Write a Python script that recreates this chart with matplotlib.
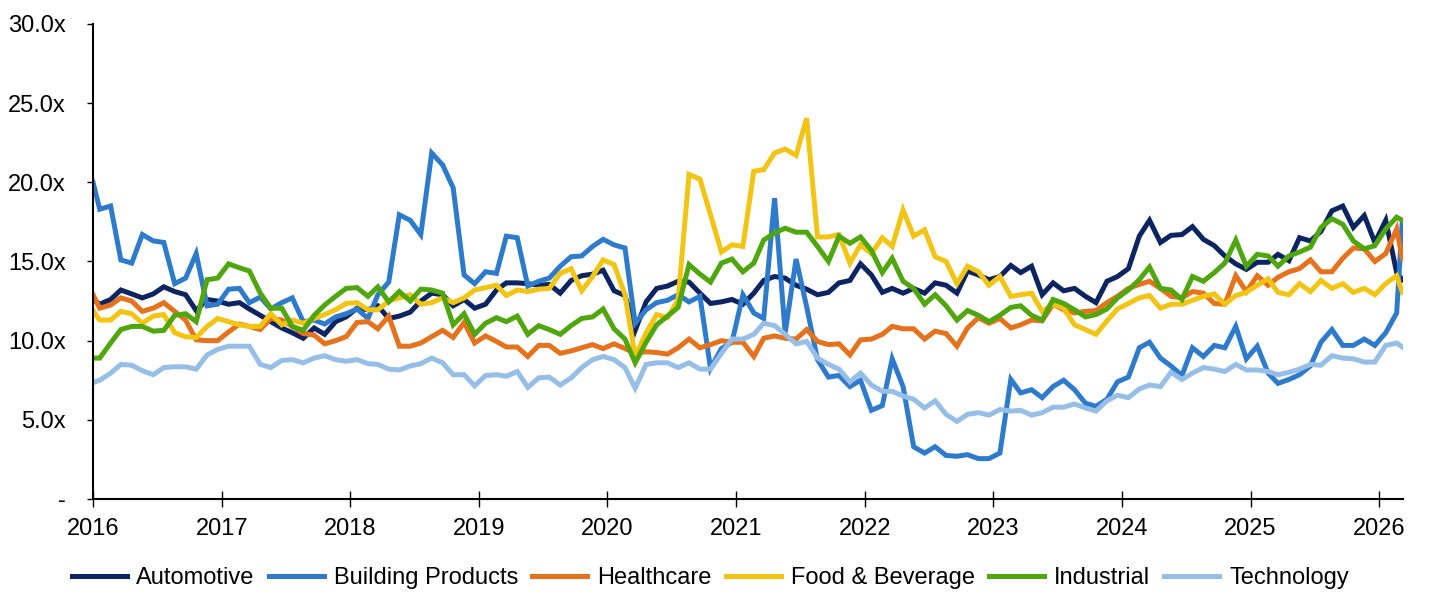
import matplotlib
matplotlib.use("Agg")
import matplotlib.pyplot as plt
import matplotlib.dates as mdates
import pandas as pd

plt.rcParams["font.family"] = ["Liberation Sans", "DejaVu Sans"]

# Dates: first point on the axis, then monthly, last point early March 2026
dates = (
    [pd.Timestamp("2016-01-01")]
    + list(pd.date_range("2016-01-20", periods=122, freq=pd.DateOffset(months=1)))
    + [pd.Timestamp("2026-03-08")]
)

automotive = [
    12.6, 12.3, 12.6, 13.2, 12.95, 12.7, 12.95, 13.4, 13.1, 12.9, 11.9, 12.6, 12.5, 12.3, 12.4, 12.0, 11.6, 11.2, 10.8, 10.5,
    10.15, 10.8, 10.4, 11.2, 11.5, 12.05, 11.95, 12.2, 11.4, 11.55, 11.8, 12.5, 13.0, 12.9, 12.2, 12.6, 12.05, 12.3, 13.2, 13.65, 13.65,
    13.6, 13.5, 13.55, 13.0, 13.8, 14.1, 14.2, 14.45, 13.15, 12.85, 10.65, 12.45, 13.3, 13.45, 13.75, 13.7, 13.0, 12.35, 12.45, 12.6,
    12.3, 13.0, 13.8, 14.05, 13.95, 13.5, 13.25, 12.9, 13.05, 13.65, 13.8, 14.85, 14.15, 13.05, 13.3, 13.0, 13.3, 13.0, 13.65, 13.5, 13.0,
    14.4, 14.15, 13.85, 14.05, 14.75, 14.3, 14.7, 12.9, 13.65, 13.15, 13.3, 12.8, 12.4, 13.75, 14.05, 14.55, 16.6, 17.6, 16.2, 16.65,
    16.7, 17.2, 16.4, 16.0, 15.35, 14.85, 14.5, 14.95, 14.95, 15.45, 15.05, 16.5, 16.3, 16.9, 18.2, 18.5, 17.15, 17.9, 16.2, 17.6, 14.3, 13.85,
]
building = [
    20.0, 18.3, 18.5, 15.1, 14.9, 16.7, 16.3, 16.2, 13.6, 13.95, 15.5, 12.2, 12.3, 13.25, 13.3, 12.4, 12.75, 12.0, 12.4, 12.7,
    11.2, 11.3, 11.05, 11.5, 11.7, 12.0, 11.4, 12.9, 13.7, 17.95, 17.6, 16.7, 21.85, 21.1, 19.65, 14.15, 13.6, 14.35, 14.25, 16.6, 16.5,
    13.45, 13.75, 13.95, 14.7, 15.3, 15.35, 15.95, 16.4, 16.05, 15.85, 11.1, 11.95, 12.4, 12.55, 12.9, 12.45, 12.8, 8.25, 9.5, 9.9,
    12.9, 11.75, 11.4, 19.0, 10.5, 15.15, 12.15, 8.8, 7.7, 7.8, 7.1, 7.5, 5.6, 5.9, 8.85, 7.1, 3.3, 2.9, 3.3, 2.75, 2.7,
    2.8, 2.55, 2.55, 2.9, 7.55, 6.7, 6.9, 6.4, 7.1, 7.5, 6.9, 6.05, 5.85, 6.3, 7.4, 7.7, 9.55, 9.9, 8.9, 8.4,
    7.8, 9.55, 9.0, 9.7, 9.55, 10.9, 8.85, 9.65, 7.95, 7.3, 7.55, 7.85, 8.4, 9.9, 10.7, 9.7, 9.7, 10.1, 9.7, 10.5, 11.75, 17.55,
]
healthcare = [
    12.9, 12.05, 12.25, 12.7, 12.5, 11.85, 12.05, 12.4, 11.85, 11.3, 10.05, 10.0, 10.0, 10.55, 11.05, 10.9, 10.7, 11.4, 11.3, 10.9,
    10.45, 10.35, 9.8, 10.0, 10.25, 11.15, 11.2, 10.75, 11.55, 9.65, 9.65, 9.85, 10.25, 10.65, 10.2, 11.15, 9.85, 10.3, 9.95, 9.6, 9.6,
    9.0, 9.7, 9.7, 9.2, 9.35, 9.55, 9.75, 9.5, 9.8, 9.5, 9.2, 9.3, 9.25, 9.15, 9.55, 10.1, 9.55, 9.75, 10.0, 9.9,
    9.9, 9.0, 10.15, 10.3, 10.15, 10.1, 10.7, 9.95, 9.75, 9.8, 9.1, 10.05, 10.1, 10.4, 10.9, 10.75, 10.75, 10.1, 10.6, 10.45, 9.65,
    10.8, 11.45, 11.1, 11.4, 10.8, 11.0, 11.3, 11.25, 12.3, 11.95, 11.75, 11.85, 11.9, 12.4, 12.8, 13.3, 13.55, 13.75, 13.3, 12.8,
    12.7, 13.1, 13.0, 12.35, 12.3, 14.1, 13.1, 14.1, 13.5, 14.0, 14.35, 14.55, 15.1, 14.35, 14.35, 15.2, 15.85, 15.8, 15.0, 15.5, 17.05, 15.2,
]
food_bev = [
    11.9, 11.3, 11.3, 11.85, 11.7, 11.1, 11.55, 11.65, 10.5, 10.25, 10.2, 10.9, 11.4, 11.2, 11.0, 10.9, 10.9, 11.7, 11.0, 11.3,
    11.1, 11.4, 11.65, 11.95, 12.35, 12.4, 11.95, 11.95, 12.5, 12.7, 12.9, 12.3, 12.4, 12.7, 12.4, 12.7, 13.2, 13.35, 13.5, 12.85, 13.2,
    13.1, 13.25, 13.3, 14.25, 14.55, 13.15, 14.05, 15.1, 14.8, 12.9, 9.0, 10.5, 11.65, 11.45, 12.6, 20.5, 20.2, 17.95, 15.6, 16.05,
    15.95, 20.7, 20.8, 21.85, 22.1, 21.7, 24.05, 16.55, 16.55, 16.7, 14.9, 16.05, 15.5, 16.5, 15.95, 18.25, 16.6, 17.0, 15.3, 15.0, 13.6,
    14.7, 14.35, 13.5, 14.05, 12.8, 12.9, 13.0, 11.85, 12.3, 12.05, 11.0, 10.7, 10.4, 11.25, 12.0, 12.35, 12.7, 12.85, 12.05, 12.3,
    12.3, 12.55, 12.8, 12.95, 12.3, 12.85, 13.05, 13.5, 13.9, 13.05, 12.9, 13.6, 13.1, 13.8, 13.3, 13.6, 13.05, 13.3, 12.9, 13.6, 14.1, 13.05,
]
industrial = [
    8.9, 8.9, 9.85, 10.7, 10.9, 10.9, 10.6, 10.65, 11.6, 11.7, 11.2, 13.85, 13.95, 14.85, 14.6, 14.4, 13.0, 12.05, 12.05, 10.9,
    10.65, 11.6, 12.25, 12.8, 13.3, 13.35, 12.8, 13.4, 12.45, 13.1, 12.5, 13.25, 13.2, 13.0, 11.0, 11.7, 10.4, 11.1, 11.45, 11.2, 11.55,
    10.4, 10.95, 10.7, 10.4, 10.95, 11.4, 11.5, 12.0, 10.75, 10.1, 8.6, 9.9, 11.0, 11.55, 12.1, 14.8, 14.2, 13.7, 14.9, 15.15,
    14.35, 14.9, 16.35, 16.8, 17.1, 16.85, 16.85, 15.95, 15.0, 16.6, 16.15, 16.55, 15.7, 14.3, 15.2, 13.75, 13.3, 12.3, 12.9, 12.2, 11.3,
    11.9, 11.6, 11.2, 11.6, 12.1, 12.2, 11.6, 11.3, 12.6, 12.35, 11.95, 11.5, 11.65, 12.0, 12.7, 13.2, 13.85, 14.65, 13.3, 13.2,
    12.6, 14.05, 13.75, 14.3, 14.9, 16.35, 14.7, 15.45, 15.35, 14.7, 15.35, 15.6, 15.9, 17.15, 17.7, 17.35, 16.3, 15.8, 16.0, 17.05, 17.8, 17.6,
]
technology = [
    7.35, 7.5, 7.95, 8.5, 8.45, 8.1, 7.85, 8.3, 8.35, 8.35, 8.2, 9.1, 9.45, 9.65, 9.65, 9.65, 8.5, 8.3, 8.75, 8.8,
    8.6, 8.9, 9.05, 8.8, 8.7, 8.8, 8.55, 8.5, 8.2, 8.15, 8.4, 8.55, 8.9, 8.6, 7.85, 7.85, 7.15, 7.8, 7.85, 7.75, 8.05,
    7.05, 7.65, 7.7, 7.2, 7.65, 8.3, 8.8, 9.0, 8.8, 8.3, 7.0, 8.5, 8.6, 8.6, 8.3, 8.6, 8.2, 8.2, 9.2, 10.1,
    10.1, 10.4, 11.1, 10.95, 10.4, 9.8, 9.95, 8.9, 8.5, 8.2, 7.4, 7.95, 7.2, 6.8, 6.8, 6.5, 6.3, 5.75, 6.2, 5.35, 4.9,
    5.35, 5.45, 5.3, 5.65, 5.55, 5.6, 5.3, 5.45, 5.8, 5.8, 6.0, 5.75, 5.55, 6.2, 6.55, 6.4, 6.95, 7.2, 7.1, 8.0,
    7.55, 7.95, 8.3, 8.2, 8.05, 8.5, 8.15, 8.15, 8.05, 7.85, 8.0, 8.2, 8.5, 8.45, 9.05, 8.9, 8.85, 8.65, 8.65, 9.7, 9.85, 9.6,
]

series = [
    ("Automotive", automotive, "#0c2461"),
    ("Building Products", building, "#2f7bcb"),
    ("Healthcare", healthcare, "#e5721c"),
    ("Food & Beverage", food_bev, "#f2c414"),
    ("Industrial", industrial, "#4fa60e"),
    ("Technology", technology, "#97bee6"),
]
y_ticks = [0, 5, 10, 15, 20, 25, 30]
y_labels = ["-", "5.0x", "10.0x", "15.0x", "20.0x", "25.0x", "30.0x"]

fig = plt.figure(figsize=(14.29, 5.92), dpi=100)
ax = fig.add_axes([0.0651, 0.1571, 0.9167, 0.8024])

for name, values, color in series:
    ax.plot(dates, values, color=color, lw=3.6, label=name, solid_joinstyle="miter")

# Axes formatting
ax.set_ylim(0, 30)
ax.set_xlim(pd.Timestamp("2016-01-01"), pd.Timestamp("2026-03-10"))
ax.set_yticks(y_ticks)
ax.set_yticklabels(y_labels)
ax.xaxis.set_major_locator(mdates.YearLocator())
ax.xaxis.set_major_formatter(mdates.DateFormatter("%Y"))

for side in ["top", "right"]:
    ax.spines[side].set_visible(False)
for side in ["left", "bottom"]:
    ax.spines[side].set_linewidth(1.5)
    ax.spines[side].set_color("black")

ax.tick_params(axis="y", direction="out", length=4.5, width=1, pad=15, labelsize=17)
ax.tick_params(axis="x", direction="inout", length=11.5, width=1, pad=8, labelsize=17)

fig.legend(loc="center", bbox_to_anchor=(0.497, 0.024), ncol=6, frameon=False,
           fontsize=17, handlelength=2.33, handletextpad=0.42, columnspacing=0.6)

fig.savefig("out.png", dpi=100)
